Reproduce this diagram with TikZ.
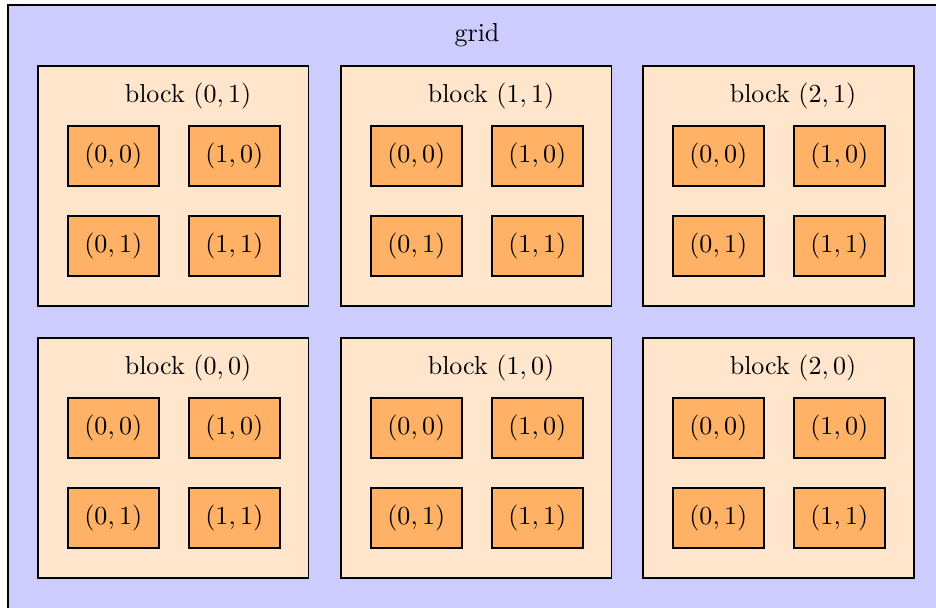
\documentclass[tikz,border=0pt]{standalone}
\newcommand{\gridcol}{blue!20}
\newcommand{\blockcol}{orange!20}
\newcommand{\threadcol}{orange!60}

\begin{document}
\begin{tikzpicture}[x=0.3846pt, y=-0.3846pt]
        \tikzset{box/.style = {draw, semithick, rectangle, anchor=north west, inner sep=0pt}}
        \tikzset{blockbox/.style = {box, fill=\blockcol, minimum width=104.2pt, minimum height=92.3pt}}
        \tikzset{thread/.style = {box, fill=\threadcol, minimum width=35pt, minimum height=23.1pt}}
        \useasboundingbox (0,0) rectangle (936,608);
        \clip (0,0) rectangle (936,608);
        \node[box, fill=\gridcol, minimum width=366pt, minimum height=236pt] (grid) at (7,4) {};
        \node (gridlabel) at (477,35) {grid};
        \foreach \i/\x in {0/37,1/340,2/642} {
          \foreach \j in {0,1} {
            \node[blockbox] (b\i\j) at (\x, {65+272*(1-\j)}) {};
            \node (lbl\i\j) at ([shift={(151,31)}]b\i\j.north west) {block $(\i,\j)$};
            %\SetVertexNoLabel
            \foreach \c in {0,1} {
              \foreach \r in {0,1} {
                \node[thread] (t\i\j\c\r) at ([shift={({30+121*\c},{60+90*\r})}]b\i\j.north west) {$(\c,\r)$};
              }
            }
          }
        }
    \end{tikzpicture}
\end{document}
